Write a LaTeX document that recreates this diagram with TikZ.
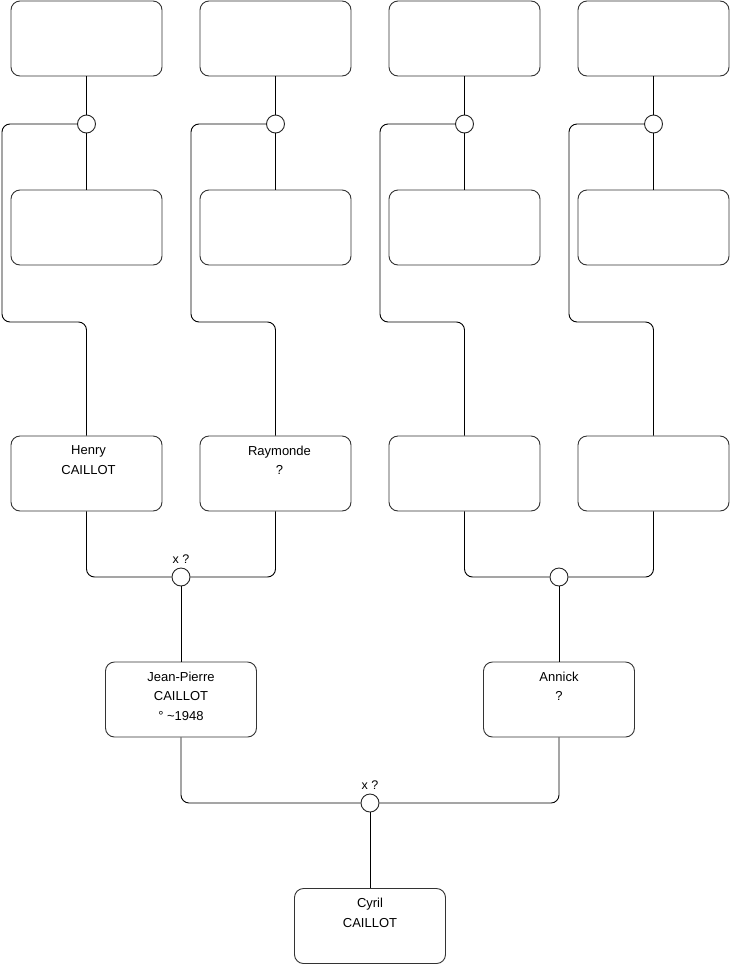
\documentclass[tikz,border=0pt]{standalone}
\usepackage{fontspec}
\setmainfont{Liberation Sans}
\usetikzlibrary{positioning}

\begin{document}
\begin{tikzpicture}[
    x=1pt, y=-1pt,
    person/.style={draw=black!80, rounded corners=9pt, minimum width=151pt, minimum height=75pt, line width=0.9pt, inner sep=0pt},
    union/.style={draw=black!85, fill=white, circle, minimum size=18pt, inner sep=0pt, line width=0.9pt},
    who/.style={anchor=north, align=center, yshift=-6.5pt, font=\fontsize{13}{19.7}\selectfont},
    wed/.style={font=\fontsize{12.5}{14}\selectfont, inner sep=1pt, label distance=3pt},
    link/.style={draw, line width=0.9pt, rounded corners=8pt}
]
    \useasboundingbox[fill=white] (0,0) rectangle (740,975);

    % Row 1 (great-grandparents, empty)
    \node[person] (a1) at (86.5,38.5) {};
    \node[person] (a2) at (275.5,38.5) {};
    \node[person] (a3) at (464.5,38.5) {};
    \node[person] (a4) at (653.5,38.5) {};

    % Row 2 (great-grandparents, empty)
    \node[person] (b1) at (86.5,227.5) {};
    \node[person] (b2) at (275.5,227.5) {};
    \node[person] (b3) at (464.5,227.5) {};
    \node[person] (b4) at (653.5,227.5) {};

    % Row 3 (grandparents)
    \node[person, label={[who, xshift=2pt]north:{Henry\\CAILLOT}}] (henry) at (86.5,473.5) {};
    \node[person, label={[who, xshift=4pt]north:{Raymonde\\?}}] (raymonde) at (275.5,473.5) {};
    \node[person] (g3) at (464.5,473.5) {};
    \node[person] (g4) at (653.5,473.5) {};

    % Row 4 (parents)
    \node[person, label={[who]north:{Jean-Pierre\\CAILLOT\\° \textasciitilde1948}}] (jeanpierre) at (181,699.5) {};
    \node[person, label={[who]north:{Annick\\?}}] (annick) at (559,699.5) {};

    % Row 5
    \node[person, label={[who]north:{Cyril\\CAILLOT}}] (cyril) at (370,926) {};

    % Unions
    \node[union] (u1) at (86.5,124) {};
    \node[union] (u2) at (275.5,124) {};
    \node[union] (u3) at (464.5,124) {};
    \node[union] (u4) at (653.5,124) {};
    \node[union, label={[wed]above:x ?}] (u5) at (181,577) {};
    \node[union] (u6) at (559,577) {};
    \node[union, label={[wed]above:x ?}] (u7) at (370,803) {};

    % Top couples
    \draw[link] (a1.south) -- (u1.north);
    \draw[link] (u1.south) -- (b1.north);
    \draw[link] (u1.west) -- (2,124) -- (2,322) -| (henry.north);
    \draw[link] (a2.south) -- (u2.north);
    \draw[link] (u2.south) -- (b2.north);
    \draw[link] (u2.west) -- (191,124) -- (191,322) -| (raymonde.north);
    \draw[link] (a3.south) -- (u3.north);
    \draw[link] (u3.south) -- (b3.north);
    \draw[link] (u3.west) -- (380,124) -- (380,322) -| (g3.north);
    \draw[link] (a4.south) -- (u4.north);
    \draw[link] (u4.south) -- (b4.north);
    \draw[link] (u4.west) -- (569,124) -- (569,322) -| (g4.north);

    % Grandparents
    \draw[link] (henry.south) |- (u5.west);
    \draw[link] (raymonde.south) |- (u5.east);
    \draw[link] (u5.south) -- (jeanpierre.north);
    \draw[link] (g3.south) |- (u6.west);
    \draw[link] (g4.south) |- (u6.east);
    \draw[link] (u6.south) -- (annick.north);

    % Parents
    \draw[link] (jeanpierre.south) |- (u7.west);
    \draw[link] (annick.south) |- (u7.east);
    \draw[link] (u7.south) -- (cyril.north);
\end{tikzpicture}
\end{document}
